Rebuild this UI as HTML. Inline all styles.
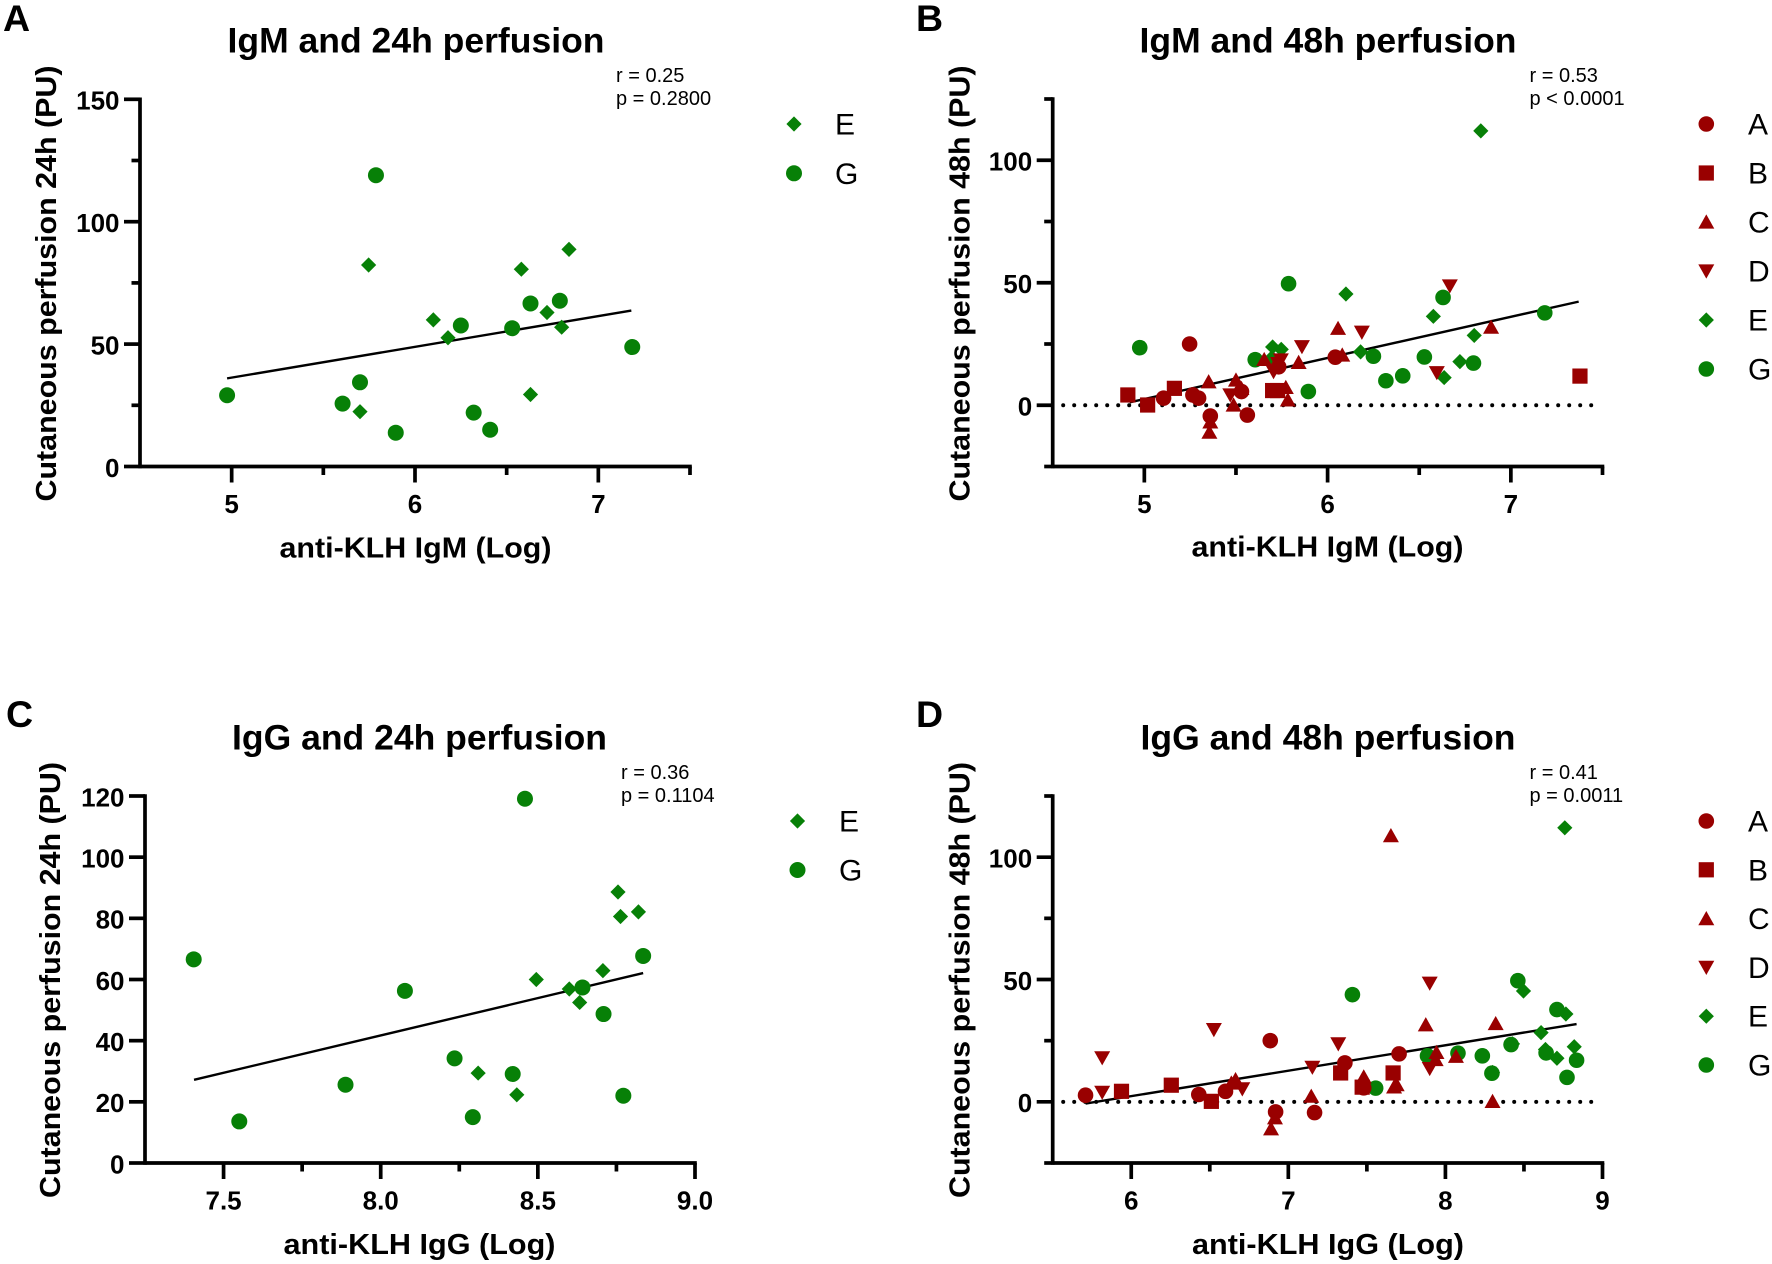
<!DOCTYPE html>
<html lang="en">
<head>
<meta charset="utf-8">
<title>Anti-KLH antibody and cutaneous perfusion correlations</title>
<style>
html,body{margin:0;padding:0;background:#fff;width:1772px;height:1264px;overflow:hidden}
svg{display:block}
text{font-family:"Liberation Sans",Arial,sans-serif;fill:#000}
.letter{font-size:37.5px;font-weight:700}
.title{font-size:35.5px;font-weight:700;text-anchor:middle}
.xt{font-size:29px;font-weight:700;text-anchor:middle}
.yt{font-size:29px;font-weight:700;text-anchor:middle}
.stat{font-size:20px}
.leg{font-size:30px}
.tick{font-size:26px;font-weight:700}
</style>
</head>
<body>
<svg id="fig" xmlns="http://www.w3.org/2000/svg" width="1772" height="1264" viewBox="0 0 1772 1264">
  <rect width="1772" height="1264" fill="#fff"/>
  <g id="panel-a">
    <text class="letter" x="3" y="31">A</text>
    <text class="title" x="416" y="52.5" textLength="377" lengthAdjust="spacingAndGlyphs">IgM and 24h perfusion</text>
    <text class="xt" x="415.5" y="557.5" textLength="272" lengthAdjust="spacingAndGlyphs">anti-KLH IgM (Log)</text>
    <text class="yt" transform="translate(56,283.5) rotate(-90)" textLength="436" lengthAdjust="spacingAndGlyphs">Cutaneous perfusion 24h (PU)</text>
    <text class="stat" x="616" y="82">r = 0.25</text>
    <text class="stat" x="616" y="105">p = 0.2800</text>
  </g>
  <g id="panel-b">
    <text class="letter" x="916" y="31">B</text>
    <text class="title" x="1328" y="52.5" textLength="377" lengthAdjust="spacingAndGlyphs">IgM and 48h perfusion</text>
    <text class="xt" x="1327.5" y="556.5" textLength="272" lengthAdjust="spacingAndGlyphs">anti-KLH IgM (Log)</text>
    <text class="yt" transform="translate(969.5,283.5) rotate(-90)" textLength="436" lengthAdjust="spacingAndGlyphs">Cutaneous perfusion 48h (PU)</text>
    <text class="stat" x="1529.5" y="82">r = 0.53</text>
    <text class="stat" x="1529.5" y="105">p &lt; 0.0001</text>
  </g>
  <g id="panel-c">
    <text class="letter" x="6" y="727">C</text>
    <text class="title" x="419.5" y="749.5" textLength="375" lengthAdjust="spacingAndGlyphs">IgG and 24h perfusion</text>
    <text class="xt" x="419.5" y="1254" textLength="272" lengthAdjust="spacingAndGlyphs">anti-KLH IgG (Log)</text>
    <text class="yt" transform="translate(60,980) rotate(-90)" textLength="436" lengthAdjust="spacingAndGlyphs">Cutaneous perfusion 24h (PU)</text>
    <text class="stat" x="621" y="779">r = 0.36</text>
    <text class="stat" x="621" y="802">p = 0.1104</text>
  </g>
  <g id="panel-d">
    <text class="letter" x="916" y="727">D</text>
    <text class="title" x="1328" y="749.5" textLength="375" lengthAdjust="spacingAndGlyphs">IgG and 48h perfusion</text>
    <text class="xt" x="1328" y="1254" textLength="272" lengthAdjust="spacingAndGlyphs">anti-KLH IgG (Log)</text>
    <text class="yt" transform="translate(969.5,980) rotate(-90)" textLength="436" lengthAdjust="spacingAndGlyphs">Cutaneous perfusion 48h (PU)</text>
    <text class="stat" x="1529.5" y="779">r = 0.41</text>
    <text class="stat" x="1529.5" y="802">p = 0.0011</text>
  </g>
</svg>
<script>
// Panel A values
const aEx = [5.747, 5.70, 6.10, 6.18, 6.58, 6.72, 6.80, 6.63, 6.84];
const aEy = [82.3, 22.4, 59.9, 52.6, 80.6, 62.9, 56.9, 29.4, 88.7];
const aGx = [5.787, 4.975, 5.605, 5.70, 5.895, 6.25, 6.32, 6.41, 6.53, 6.63, 6.79, 7.185];
const aGy = [119, 29.1, 25.7, 34.4, 13.8, 57.6, 22, 15, 56.5, 66.6, 67.7, 48.8];
const aLineX = [4.975, 7.18];
const aLineY = [36, 63.7];
// Panel B values
const bAx = [5.247, 5.105, 5.265, 5.296, 5.36, 5.53, 5.562, 5.733, 6.042];
const bAy = [25, 2.9, 4.2, 2.9, -4.4, 5.6, -4, 15.7, 19.6];
const bBx = [4.91, 5.018, 5.164, 5.70, 5.727, 7.377];
const bBy = [4.2, 0.1, 6.9, 6, 6, 11.9];
const bCx = [5.351, 5.36, 5.355, 5.50, 5.53, 5.487, 5.654, 5.772, 5.783, 5.842, 6.057, 6.08, 6.892];
const bCy = [9.6, -6.8, -11, 10.3, 6.9, 0.1, 18.7, 7.3, 2.2, 17.5, 31.4, 20.5, 31.9];
const bDx = [5.469, 5.86, 6.187, 5.745, 5.705, 5.73, 6.596, 6.667];
const bDy = [4.2, 23.9, 29.8, 18.5, 13.7, 17, 13.3, 48.7];
const bEx = [6.836, 5.70, 5.747, 5.695, 6.10, 6.18, 6.577, 6.636, 6.722, 6.80];
const bEy = [112, 23.8, 22.8, 19.4, 45.4, 21.8, 36.3, 11.3, 17.8, 28.5];
const bGx = [4.975, 5.605, 5.787, 5.895, 6.25, 6.318, 6.41, 6.528, 6.63, 6.796, 7.185];
const bGy = [23.5, 18.6, 49.6, 5.6, 20, 10, 12, 19.7, 44, 17.2, 37.7];
const bLineX = [4.92, 7.37];
const bLineY = [1.2, 42.3];
// Panel C values
const cEx = [8.495, 8.60, 8.633, 8.707, 8.755, 8.763, 8.82, 8.31, 8.433];
const cEy = [60, 56.9, 52.5, 62.9, 88.6, 80.6, 82.1, 29.4, 22.3];
const cGx = [7.405, 7.55, 7.888, 8.077, 8.235, 8.293, 8.42, 8.459, 8.642, 8.709, 8.772, 8.835];
const cGy = [66.6, 13.6, 25.6, 56.3, 34.2, 15, 29.1, 119.1, 57.4, 48.7, 22, 67.7];
const cLineX = [7.406, 8.835];
const cLineY = [27.2, 62.1];
// Panel D values
const dAx = [5.709, 6.43, 6.60, 6.885, 6.919, 7.167, 7.36, 7.705, 7.48];
const dAy = [2.7, 3, 4.3, 25, -4.1, -4.4, 15.9, 19.6, 5.7];
const dBx = [5.938, 6.255, 6.51, 7.333, 7.47, 7.667];
const dBy = [4.3, 6.8, 0.2, 11.8, 6, 11.8];
const dCx = [6.664, 6.637, 6.915, 6.89, 7.146, 7.48, 7.673, 7.69, 7.875, 7.938, 7.943, 8.067, 8.32, 8.30, 7.653];
const dCy = [9.1, 7.7, -6.5, -11, 2.3, 10.2, 6.1, 7, 31.5, 17.3, 20.2, 18.6, 32, 0.2, 108.8];
const dDx = [5.815, 5.815, 6.526, 6.707, 7.153, 7.318, 7.90, 7.90];
const dDy = [18, 3.9, 29.5, 5.3, 14.1, 23.7, 13.6, 48.5];
const dEx = [8.76, 8.497, 8.767, 8.609, 8.82, 8.637, 8.71, 8.30, 8.427];
const dEy = [112, 45.3, 35.9, 28.3, 22.5, 21.4, 17.8, 12, 23.7];
const dGx = [7.408, 7.556, 7.886, 8.08, 8.235, 8.296, 8.418, 8.461, 8.641, 8.71, 8.774, 8.835];
const dGy = [43.8, 5.6, 18.8, 19.9, 18.8, 11.7, 23.4, 49.5, 20, 37.7, 10, 17];
const dLineX = [5.709, 8.835];
const dLineY = [-0.7, 31.8];
// Tick values and labels
const xTicksIgM = [5, 6, 7];
const xMinorIgM = [5.5, 6.5, 7.5];
const xLabelsIgM = ['5', '6', '7'];
const xTicksIgGc = [7.5, 8.0, 8.5, 9.0];
const xMinorIgGc = [7.75, 8.25, 8.75];
const xLabelsIgGc = ['7.5', '8.0', '8.5', '9.0'];
const xTicksIgGd = [6, 7, 8, 9];
const xMinorIgGd = [6.5, 7.5, 8.5];
const xLabelsIgGd = ['6', '7', '8', '9'];
const yTicksA = [0, 50, 100, 150];
const yMinorA = [25, 75, 125];
const yLabelsA = ['0', '50', '100', '150'];
const yTicks48 = [0, 50, 100];
const yMinor48 = [-25, 25, 75, 125];
const yLabels48 = ['0', '50', '100'];
const yTicksC = [0, 20, 40, 60, 80, 100, 120];
const yMinorC = [];
const yLabelsC = ['0', '20', '40', '60', '80', '100', '120'];
const groupsGreen = ['E', 'G'];
const groupsAll = ['A', 'B', 'C', 'D', 'E', 'G'];

const RED = '#990000', GREEN = '#078007', NS = 'http://www.w3.org/2000/svg';
const INK = '#000';
const shapeOf = {A: 'circle', B: 'square', C: 'up', D: 'down', E: 'diamond', G: 'circle'};
const colorOf = {A: RED, B: RED, C: RED, D: RED, E: GREEN, G: GREEN};

function mk(tag, parent, attrs) {
  const n = document.createElementNS(NS, tag);
  for (const k in attrs) n.setAttribute(k, attrs[k]);
  parent.appendChild(n);
  return n;
}

function marker(parent, group, cx, cy, r) {
  const s = shapeOf[group], c = colorOf[group];
  if (s === 'circle') return mk('circle', parent, {cx: cx, cy: cy, r: r, fill: c});
  if (s === 'square') return mk('rect', parent, {x: cx - 7.6, y: cy - 7.6, width: 15.2, height: 15.2, fill: c});
  const pts = {
    up: [[0, -7.6], [8, 6.6], [-8, 6.6]],
    down: [[0, 7.6], [8, -6.6], [-8, -6.6]],
    diamond: [[0, -7.6], [7.6, 0], [0, 7.6], [-7.6, 0]]
  }[s];
  return mk('polygon', parent, {points: pts.map(p => (cx + p[0]) + ',' + (cy + p[1])).join(' '), fill: c});
}

function drawPanel(p) {
  const root = document.getElementById(p.id);
  const sx = v => p.left + (v - p.xDomain[0]) / (p.xDomain[1] - p.xDomain[0]) * (p.right - p.left);
  const sy = v => p.bottom + (v - p.yDomain[0]) / (p.yDomain[1] - p.yDomain[0]) * (p.top - p.bottom);

  if (p.zeroLine) {
    const z = mk('line', root, {x1: p.left + 10.5, x2: p.right - 6, y1: sy(0), y2: sy(0), stroke: INK, 'stroke-width': 4, 'stroke-linecap': 'round', 'stroke-dasharray': '0 11'});
    
    
  }
  const fit = mk('line', root, {x1: sx(p.lineX[0]), y1: sy(p.lineY[0]), x2: sx(p.lineX[1]), y2: sy(p.lineY[1]), stroke: INK, 'stroke-width': 2.4});
  
  

  p.series.forEach(s => {
    const g = mk('g', root, {});
    
    
    s.x.forEach((v, i) => {
      const m = marker(g, s.name, sx(v), sy(s.y[i]), p.radius);
      
      
    });
  });

  const axes = mk('g', root, {stroke: INK, 'stroke-width': 3.7, fill: 'none'});
  
  
  const yAxis = mk('line', axes, {x1: p.left, x2: p.left, y1: p.top - 1.8, y2: p.bottom + 1.8});
  
  
  const xAxis = mk('line', axes, {x1: p.left, x2: p.right + 1.8, y1: p.bottom, y2: p.bottom});
  
  

  p.xTicks.forEach((v, i) => {
    const t = mk('line', axes, {x1: sx(v), x2: sx(v), y1: p.bottom, y2: p.bottom + 16});
    
    
    const l = mk('text', root, {x: sx(v), y: p.bottom + 46.5, class: 'tick', 'text-anchor': 'middle'});
    l.textContent = p.xLabels[i];
    
    
  });
  p.xMinor.forEach(v => {
    const t = mk('line', axes, {x1: sx(v), x2: sx(v), y1: p.bottom, y2: p.bottom + 8.5});
    
    
  });
  p.yTicks.forEach((v, i) => {
    const t = mk('line', axes, {x1: p.left - 16, x2: p.left, y1: sy(v), y2: sy(v)});
    
    
    const l = mk('text', root, {x: p.left - 20.5, y: sy(v) + 10.3, class: 'tick', 'text-anchor': 'end'});
    l.textContent = p.yLabels[i];
    
    
  });
  p.yMinor.forEach(v => {
    const t = mk('line', axes, {x1: p.left - 8.5, x2: p.left, y1: sy(v), y2: sy(v)});
    
    
  });

  p.legendGroups.forEach((name, i) => {
    const g = mk('g', root, {});
    
    
    const cy = p.legendY + i * p.legendStep;
    marker(g, name, p.legendX, cy, p.radius);
    const l = mk('text', g, {x: p.legendTextX, y: cy + 10.5, class: 'leg'});
    l.textContent = name;
  });
}

drawPanel({id: 'panel-a', left: 140, right: 690, top: 99.3, bottom: 466.5, radius: 8, xDomain: [4.5, 7.5], yDomain: [0, 150],
  xTicks: xTicksIgM, xMinor: xMinorIgM, xLabels: xLabelsIgM, yTicks: yTicksA, yMinor: yMinorA, yLabels: yLabelsA,
  lineX: aLineX, lineY: aLineY, zeroLine: false,
  series: [{name: 'E', x: aEx, y: aEy}, {name: 'G', x: aGx, y: aGy}],
  legendGroups: groupsGreen, legendX: 794, legendY: 124, legendStep: 49.3, legendTextX: 835});

drawPanel({id: 'panel-b', left: 1052.7, right: 1602.5, top: 99, bottom: 466.5, radius: 7.8, xDomain: [4.5, 7.5], yDomain: [-25, 125],
  xTicks: xTicksIgM, xMinor: xMinorIgM, xLabels: xLabelsIgM, yTicks: yTicks48, yMinor: yMinor48, yLabels: yLabels48,
  lineX: bLineX, lineY: bLineY, zeroLine: true,
  series: [{name: 'E', x: bEx, y: bEy}, {name: 'G', x: bGx, y: bGy}, {name: 'D', x: bDx, y: bDy}, {name: 'C', x: bCx, y: bCy}, {name: 'B', x: bBx, y: bBy}, {name: 'A', x: bAx, y: bAy}],
  legendGroups: groupsAll, legendX: 1706.3, legendY: 124, legendStep: 49, legendTextX: 1748});

drawPanel({id: 'panel-c', left: 145, right: 695, top: 796, bottom: 1163, radius: 8, xDomain: [7.25, 9.0], yDomain: [0, 120],
  xTicks: xTicksIgGc, xMinor: xMinorIgGc, xLabels: xLabelsIgGc, yTicks: yTicksC, yMinor: yMinorC, yLabels: yLabelsC,
  lineX: cLineX, lineY: cLineY, zeroLine: false,
  series: [{name: 'E', x: cEx, y: cEy}, {name: 'G', x: cGx, y: cGy}],
  legendGroups: groupsGreen, legendX: 797.5, legendY: 821, legendStep: 49, legendTextX: 839});

drawPanel({id: 'panel-d', left: 1052.7, right: 1602.5, top: 796, bottom: 1163, radius: 7.8, xDomain: [5.5, 9], yDomain: [-25, 125],
  xTicks: xTicksIgGd, xMinor: xMinorIgGd, xLabels: xLabelsIgGd, yTicks: yTicks48, yMinor: yMinor48, yLabels: yLabels48,
  lineX: dLineX, lineY: dLineY, zeroLine: true,
  series: [{name: 'E', x: dEx, y: dEy}, {name: 'G', x: dGx, y: dGy}, {name: 'D', x: dDx, y: dDy}, {name: 'C', x: dCx, y: dCy}, {name: 'B', x: dBx, y: dBy}, {name: 'A', x: dAx, y: dAy}],
  legendGroups: groupsAll, legendX: 1706.3, legendY: 821, legendStep: 48.8, legendTextX: 1748});
</script>
</body>
</html>
